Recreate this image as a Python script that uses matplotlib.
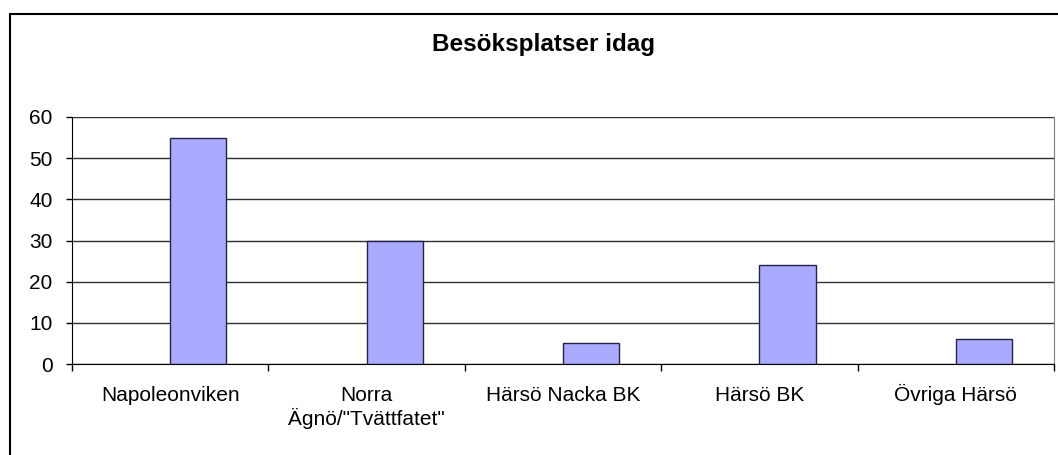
import numpy as np
import matplotlib
matplotlib.use("Agg")
import matplotlib.pyplot as plt
from matplotlib.patches import Rectangle
from matplotlib.transforms import offset_copy

plt.rcParams['font.family'] = ['Liberation Sans', 'DejaVu Sans']

# visitor counts per place
places = ["Napoleonviken", "Norra\nÄgnö/\"Tvättfatet\"", "Härsö Nacka BK", "Härsö BK", "Övriga Härsö"]
visits = [55, 30, 5, 24, 6]
yticks = [0, 10, 20, 30, 40, 50, 60]

W, H = 1058, 455
fig = plt.figure(figsize=(W / 100, H / 100), dpi=100)

# outer chart frame (only left and top edges fall inside the image)
fig.patches.append(Rectangle((10 / W, -0.05), 1.1, (H - 14) / H + 0.05, transform=fig.transFigure,
                             fill=False, edgecolor='black', linewidth=1.5))

ax = fig.add_axes([72 / W, (H - 364) / H, (1054 - 72) / W, (364 - 117) / H])

x = np.arange(len(places))
w = 1 / 3.5  # two series slots + 150% gap, first slot empty
ax.bar(x + w / 2, visits, width=w, color='#AAAAFF', edgecolor='#222244', linewidth=1, zorder=3)

ax.set_xlim(-0.5, len(places) - 0.5)
ax.set_ylim(0, 60)
ax.set_yticks(yticks)
ax.yaxis.grid(True, color='#303030', linewidth=1)
ax.set_axisbelow(True)

# ticks at category boundaries
ax.set_xticks(np.arange(len(places) + 1) - 0.5)
ax.set_xticklabels([])
ax.tick_params(axis='x', which='major', length=5, width=1, direction='out')
ax.tick_params(axis='y', length=4, width=1, direction='out', labelsize=15, pad=10)

# category labels, baselines lined up line by line
for i, label in enumerate(places):
    for k, line in enumerate(label.split('\n')):
        tr = offset_copy(ax.get_xaxis_transform(), fig=fig, y=-37 - 24 * k, units='dots')
        ax.text(i, 0, line, transform=tr, ha='center', va='baseline', fontsize=15)

ax.spines['top'].set_visible(False)
ax.spines['right'].set_color('#808080')
ax.spines['left'].set_color('black')
ax.spines['bottom'].set_color('black')

fig.text(543 / W, 1 - 51 / H, "Besöksplatser idag", ha='center', va='baseline',
         fontsize=17.5, fontweight='bold')

fig.savefig('out.png', dpi=100)
